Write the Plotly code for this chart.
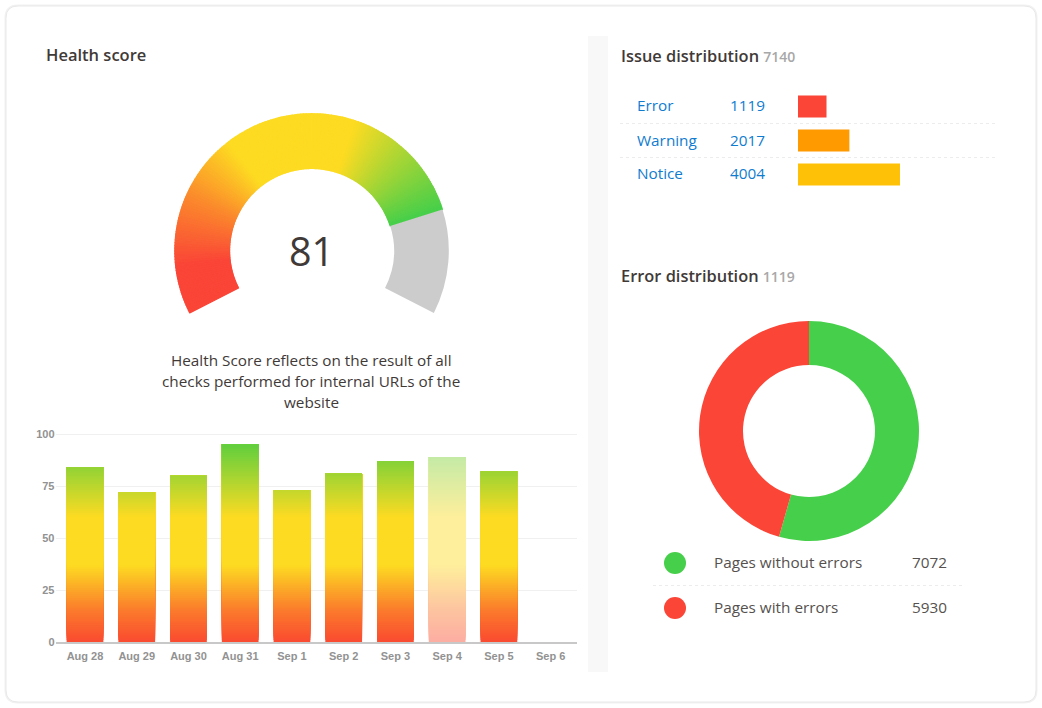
import plotly.graph_objects as go

W = 1042
H = 708

# health score history
days = ['Aug 28', 'Aug 29', 'Aug 30', 'Aug 31', 'Sep 1', 'Sep 2', 'Sep 3', 'Sep 4', 'Sep 5', 'Sep 6']
scores = [84, 72, 80, 95, 73, 81, 87, 89, 82, 0]
score_ticks = [0, 25, 50, 75, 100]
faded_day = 'Sep 4'

health_score = 81
health_text = ['Health Score reflects on the result of all',
               'checks performed for internal URLs of the',
               'website']

issue_names = ['Error', 'Warning', 'Notice']
issue_counts = [1119, 2017, 4004]
issue_colors = ['#fa4537', '#ff9a00', '#ffc107']

error_names = ['Pages without errors', 'Pages with errors']
error_counts = [7072, 5930]
error_colors = ['#46cf4a', '#fa4537']

TEXT = '#3f3a37'
GREY = '#a8a8a8'
BLUE = '#0f7ccf'
FONT = 'Open Sans'

bar_stops = [(0, '#fa4a30'), (15, '#fb7a2c'), (37, '#fddb22'), (60, '#fddb22'), (100, '#4acd42')]
gauge_stops = [(0, '#fa4537'), (9, '#fa4537'), (22, '#fb8a2c'), (34, '#fddb22'), (58, '#fddb22'), (81, '#46cf4a')]


def mix(stops, v, fade=1.0):
    # colour at v along a list of (position, hex) stops, fade < 1 blends it towards white
    for (a, ca), (b, cb) in zip(stops, stops[1:]):
        if v <= b:
            t = (v - a) / (b - a)
            rgb = [int(ca[i:i + 2], 16) * (1 - t) + int(cb[i:i + 2], 16) * t for i in (1, 3, 5)]
            rgb = [c * fade + 255 * (1 - fade) for c in rgb]
            return 'rgb({:.0f},{:.0f},{:.0f})'.format(*rgb)
    return stops[-1][1]


def dom_x(a, b):
    return [a / W, b / W]


def dom_y(top, bottom):
    return [1 - bottom / H, 1 - top / H]


def text(x, y, s, size=15.3, color=TEXT, anchor='left', weight=None, family=FONT):
    # annotations carry about 2px of padding
    x = x - 2 if anchor == 'left' else x + 2 if anchor == 'right' else x
    return dict(x=x / W, y=1 - y / H, xref='paper', yref='paper', text=s, showarrow=False,
                xanchor=anchor, yanchor='middle', align=anchor,
                font=dict(family=family, size=size, color=color, weight=weight))


def hline(y, x0, x1):
    return dict(type='line', xref='paper', yref='paper', x0=x0 / W, x1=x1 / W, y0=1 - y / H, y1=1 - y / H,
                line=dict(color='#ececec', width=1, dash='dot'))


def rounded(x0, y0, x1, y1, r):
    px = lambda x: x / W
    py = lambda y: 1 - y / H
    return ('M {} {} L {} {} Q {} {} {} {} L {} {} Q {} {} {} {} L {} {} Q {} {} {} {} L {} {} Q {} {} {} {} Z'
            .format(px(x0 + r), py(y0), px(x1 - r), py(y0), px(x1), py(y0), px(x1), py(y0 + r),
                    px(x1), py(y1 - r), px(x1), py(y1), px(x1 - r), py(y1),
                    px(x0 + r), py(y1), px(x0), py(y1), px(x0), py(y1 - r),
                    px(x0), py(y0 + r), px(x0), py(y0), px(x0 + r), py(y0)))


fig = go.Figure()

# gauge: score part cut in thin slices to get the colour sweep
step = 0.5
n = int(health_score / step)
gauge_vals = [step] * n + [100 - health_score, 100 * 126 / 234]
gauge_cols = [mix(gauge_stops, (i + 0.5) * step) for i in range(n)] + ['#cccccc', 'rgba(0,0,0,0)']
gauge_line = [1.2] * n + [0, 0]
fig.add_trace(go.Pie(values=gauge_vals, sort=False, direction='clockwise', rotation=243, hole=0.6,
                     textinfo='none', hoverinfo='skip', showlegend=False,
                     marker=dict(colors=gauge_cols, line=dict(color=gauge_cols, width=gauge_line)),
                     domain=dict(x=dom_x(174.8, 448.8), y=dom_y(113.7, 387.7))))

# error donut
fig.add_trace(go.Pie(values=error_counts, labels=error_names, sort=False, direction='clockwise', rotation=0,
                     hole=0.6, textinfo='none', showlegend=False,
                     marker=dict(colors=error_colors, line=dict(width=0)),
                     domain=dict(x=dom_x(699, 919), y=dom_y(321, 541))))

# history bars: each piece runs up to the bar top and the next one paints over it,
# so the colour follows the y scale without seams
seg_x, seg_base, seg_h, seg_col = [], [], [], []
for day, val in zip(days, scores):
    fade = 0.45 if day == faded_day else 1.0
    for low in range(0, val):
        seg_x.append(day)
        seg_base.append(low)
        seg_h.append(val - low)
        seg_col.append(mix(bar_stops, low + 0.5, fade))
fig.add_trace(go.Bar(x=seg_x, y=seg_h, base=seg_base, width=0.71, xaxis='x', yaxis='y',
                     marker=dict(color=seg_col, line=dict(width=0)), hoverinfo='skip'))

# issue bars
fig.add_trace(go.Bar(x=issue_counts, y=issue_names, orientation='h', width=0.64, xaxis='x2', yaxis='y2',
                     marker=dict(color=issue_colors, line=dict(width=0))))

annotations = [
    text(46, 55, 'Health score', 16.5, weight=600),
    text(620.5, 55.5, 'Issue distribution <span style="font-size:14px;color:{}">{}</span>'.format(GREY, sum(issue_counts)), 16.4, weight=600),
    text(620.5, 275.5, 'Error distribution <span style="font-size:14px;color:{}">{}</span>'.format(GREY, issue_counts[0]), 16.4, weight=600),
    text(311, 251, str(health_score), 39.5, anchor='center'),
]
for i, line in enumerate(health_text):
    annotations.append(text(311, 360 + i * 21, line, anchor='center'))
for i, (name, count) in enumerate(zip(issue_names, issue_counts)):
    annotations.append(text(637, 105.5 + i * 34, name, color=BLUE))
    annotations.append(text(730, 105.5 + i * 34, str(count), color=BLUE))
for i, (name, count) in enumerate(zip(error_names, error_counts)):
    annotations.append(text(714, 562 + i * 45, name, color='#55514e'))
    annotations.append(text(947, 562 + i * 45, str(count), color='#55514e', anchor='right'))

shapes = [
    dict(type='path', xref='paper', yref='paper', path=rounded(6, 6, 1036, 702, 12), layer='below',
         fillcolor='#ffffff', line=dict(color='#f1f1f1', width=3)),
    dict(type='path', xref='paper', yref='paper', path=rounded(6, 6, 1036, 702, 12), layer='below',
         fillcolor='#ffffff', line=dict(color='#e9e9e9', width=1)),
    dict(type='rect', xref='paper', yref='paper', x0=588 / W, x1=608 / W, y0=1 - 672 / H, y1=1 - 36 / H,
         layer='below', fillcolor='#f8f8f8', line=dict(width=0)),
    hline(123.5, 620, 997),
    hline(157.5, 620, 997),
    hline(585.5, 653, 965),
]
for i, col in enumerate(error_colors):
    cy = 563 + i * 45
    shapes.append(dict(type='circle', xref='paper', yref='paper', x0=664 / W, x1=686 / W,
                       y0=1 - (cy + 11) / H, y1=1 - (cy - 11) / H, fillcolor=col, line=dict(width=0)))

fig.update_layout(
    width=W, height=H, margin=dict(l=0, r=0, t=0, b=0, autoexpand=False), autosize=False,
    paper_bgcolor='#ffffff', plot_bgcolor='rgba(0,0,0,0)', showlegend=False, barmode='overlay',
    font=dict(family=FONT),
    xaxis=dict(domain=dom_x(55.5, 576.5), type='category', categoryorder='array', categoryarray=days,
               tickvals=days, range=[-0.57, 9.5], showgrid=False, showline=True, linecolor='#c8c8c8', linewidth=2,
               ticks='', tickfont=dict(family='Liberation Sans', size=11, color='#929292', weight=600),
               ticklabelstandoff=3, zeroline=False),
    yaxis=dict(domain=dom_y(433, 642), range=[0, 100.5], tickvals=score_ticks, showgrid=True,
               gridcolor='#f0f0f0', gridwidth=1, zeroline=False, showline=False, ticks='',
               tickfont=dict(family='Liberation Sans', size=11, color='#929292', weight=600)),
    xaxis2=dict(domain=dom_x(798, 900), range=[0, max(issue_counts)], visible=False, anchor='y2'),
    yaxis2=dict(domain=dom_y(89.5, 191.5), type='category', autorange='reversed', visible=False, anchor='x2'),
    annotations=annotations,
    shapes=shapes,
)

fig.write_html("out.html", config=dict(displayModeBar=False),
               post_script="document.body.style.margin='0';document.body.style.overflow='hidden';")
